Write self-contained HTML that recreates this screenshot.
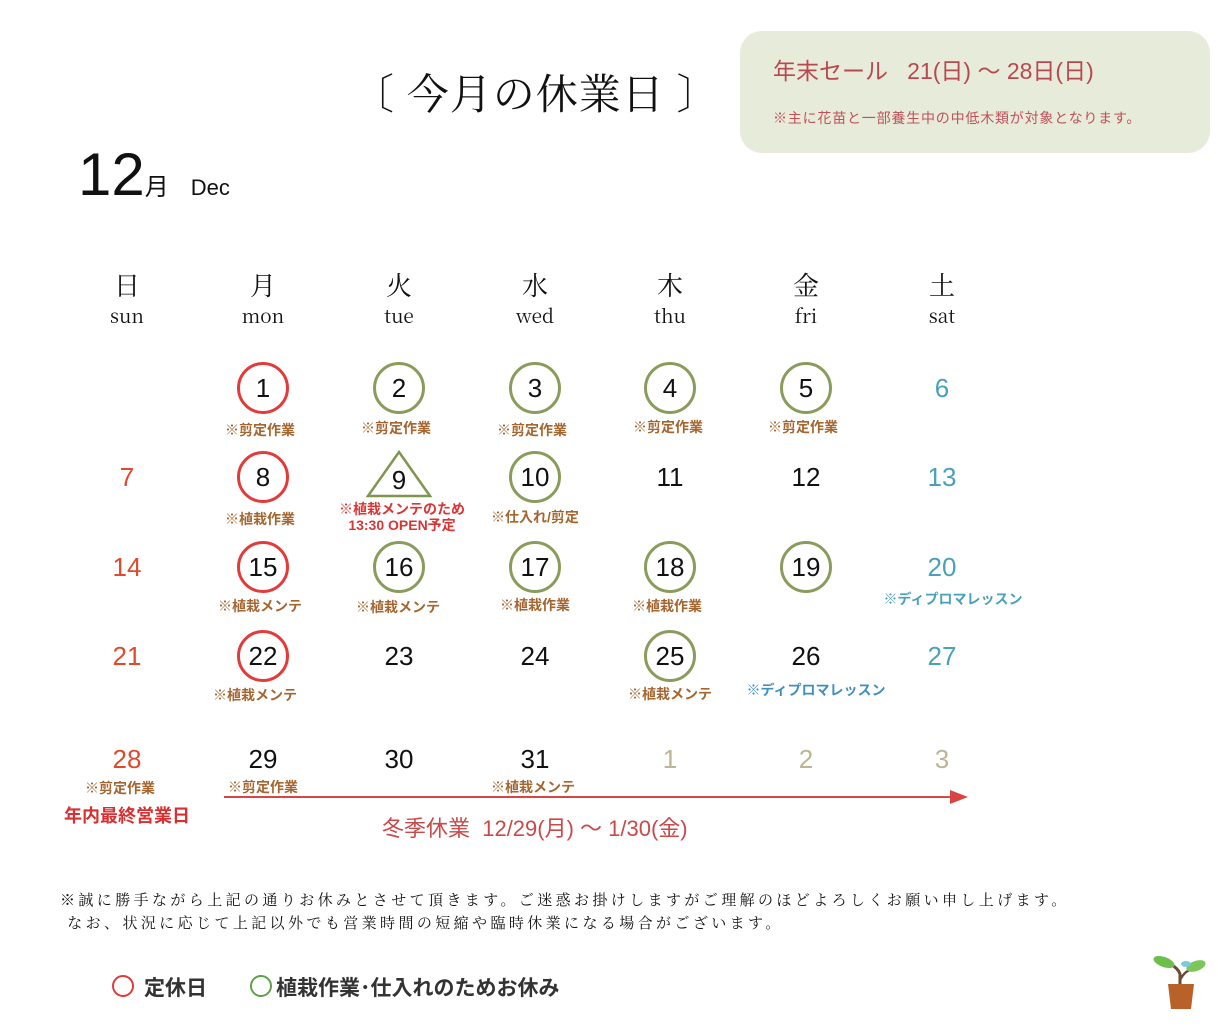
<!DOCTYPE html>
<html><head><meta charset="utf-8"><style>
body{margin:0;width:1218px;height:1031px;background:#fff;position:relative;overflow:hidden;font-family:"Liberation Sans","Noto Sans CJK JP",sans-serif;color:#111}
div{position:absolute}
.n{width:100px;margin-left:-50px;text-align:center;font-size:26px;line-height:30px}
.c{width:46px;height:46px;border:3.5px solid;border-radius:50%;margin-left:-26.5px;margin-top:-26.5px}
.r{border-color:#e23b3b}.g{border-color:#8a9c5c}
.a{width:220px;margin-left:-110px;text-align:center;font-size:14px;font-weight:bold;color:#a5652f;line-height:16px}
.h{width:100px;margin-left:-50px;text-align:center;font-family:"Noto Serif CJK SC","Liberation Serif",serif}
.red{color:#df4a2c}.teal{color:#4aa0b8}.pale{color:#bdb592}
</style></head><body>
<div style="left:352px;top:62px;font-size:42px;font-family:'Noto Serif CJK SC',serif;letter-spacing:1px">〔 今月の休業日 〕</div>
<div style="left:78px;top:140px;font-size:60px;font-family:'Liberation Sans',sans-serif;line-height:70px">12<span style="font-size:24px;font-family:'Noto Sans CJK JP',sans-serif">月</span><span style="font-size:22px;margin-left:22px">Dec</span></div>
<div style="left:740px;top:31px;width:470px;height:122px;background:#e7ebd9;border-radius:22px"></div>
<div style="left:773px;top:52px;font-size:23px;color:#b84850;white-space:pre">年末セール   21(日) ～ 28日(日)</div>
<div style="left:773px;top:108px;font-size:14px;color:#c0505a;letter-spacing:0.8px">※主に花苗と一部養生中の中低木類が対象となります。</div>

<div class="h" style="left:127px;top:266px;font-size:26px">日</div><div class="h" style="left:127px;top:302px;font-size:19px">sun</div>
<div class="h" style="left:263px;top:266px;font-size:26px">月</div><div class="h" style="left:263px;top:302px;font-size:19px">mon</div>
<div class="h" style="left:399px;top:266px;font-size:26px">火</div><div class="h" style="left:399px;top:302px;font-size:19px">tue</div>
<div class="h" style="left:535px;top:266px;font-size:26px">水</div><div class="h" style="left:535px;top:302px;font-size:19px">wed</div>
<div class="h" style="left:670px;top:266px;font-size:26px">木</div><div class="h" style="left:670px;top:302px;font-size:19px">thu</div>
<div class="h" style="left:806px;top:266px;font-size:26px">金</div><div class="h" style="left:806px;top:302px;font-size:19px">fri</div>
<div class="h" style="left:942px;top:266px;font-size:26px">土</div><div class="h" style="left:942px;top:302px;font-size:19px">sat</div>

<!-- row1 -->
<div class="c r" style="left:263px;top:388px"></div><div class="n" style="left:263px;top:373px">1</div><div class="a" style="left:260px;top:422px">※剪定作業</div>
<div class="c g" style="left:399px;top:388px"></div><div class="n" style="left:399px;top:373px">2</div><div class="a" style="left:396px;top:420px">※剪定作業</div>
<div class="c g" style="left:535px;top:388px"></div><div class="n" style="left:535px;top:373px">3</div><div class="a" style="left:532px;top:422px">※剪定作業</div>
<div class="c g" style="left:670px;top:388px"></div><div class="n" style="left:670px;top:373px">4</div><div class="a" style="left:668px;top:419px">※剪定作業</div>
<div class="c g" style="left:806px;top:388px"></div><div class="n" style="left:806px;top:373px">5</div><div class="a" style="left:803px;top:419px">※剪定作業</div>
<div class="n teal" style="left:942px;top:373px">6</div>
<!-- row2 -->
<div class="n red" style="left:127px;top:462px">7</div>
<div class="c r" style="left:263px;top:477px"></div><div class="n" style="left:263px;top:462px">8</div><div class="a" style="left:260px;top:511px">※植栽作業</div>
<svg style="position:absolute;left:366px;top:450px" width="66" height="48"><polygon points="33,2 64,46 2,46" fill="none" stroke="#7f9550" stroke-width="2.5"/></svg>
<div class="n" style="left:399px;top:465px">9</div>
<div class="a" style="left:402px;top:501px;color:#d93535">※植栽メンテのため<br>13:30 OPEN予定</div>
<div class="c g" style="left:535px;top:477px"></div><div class="n" style="left:535px;top:462px">10</div><div class="a" style="left:535px;top:509px">※仕入れ/剪定</div>
<div class="n" style="left:670px;top:462px">11</div>
<div class="n" style="left:806px;top:462px">12</div>
<div class="n teal" style="left:942px;top:462px">13</div>
<!-- row3 -->
<div class="n red" style="left:127px;top:552px">14</div>
<div class="c r" style="left:263px;top:567px"></div><div class="n" style="left:263px;top:552px">15</div><div class="a" style="left:260px;top:598px">※植栽メンテ</div>
<div class="c g" style="left:399px;top:567px"></div><div class="n" style="left:399px;top:552px">16</div><div class="a" style="left:398px;top:599px">※植栽メンテ</div>
<div class="c g" style="left:535px;top:567px"></div><div class="n" style="left:535px;top:552px">17</div><div class="a" style="left:535px;top:597px">※植栽作業</div>
<div class="c g" style="left:670px;top:567px"></div><div class="n" style="left:670px;top:552px">18</div><div class="a" style="left:667px;top:598px">※植栽作業</div>
<div class="c g" style="left:806px;top:567px"></div><div class="n" style="left:806px;top:552px">19</div>
<div class="n teal" style="left:942px;top:552px">20</div><div class="a" style="left:953px;top:591px;color:#4aa0b8">※ディプロマレッスン</div>
<!-- row4 -->
<div class="n red" style="left:127px;top:641px">21</div>
<div class="c r" style="left:263px;top:656px"></div><div class="n" style="left:263px;top:641px">22</div><div class="a" style="left:255px;top:687px">※植栽メンテ</div>
<div class="n" style="left:399px;top:641px">23</div>
<div class="n" style="left:535px;top:641px">24</div>
<div class="c g" style="left:670px;top:656px"></div><div class="n" style="left:670px;top:641px">25</div><div class="a" style="left:670px;top:686px">※植栽メンテ</div>
<div class="n" style="left:806px;top:641px">26</div><div class="a" style="left:816px;top:682px;color:#3f8fc0">※ディプロマレッスン</div>
<div class="n teal" style="left:942px;top:641px">27</div>
<!-- row5 -->
<div class="n red" style="left:127px;top:744px">28</div><div class="a" style="left:120px;top:780px">※剪定作業</div>
<div class="a" style="left:127px;top:805px;color:#d63030;font-size:18px;line-height:22px">年内最終営業日</div>
<div class="n" style="left:263px;top:744px">29</div><div class="a" style="left:263px;top:779px">※剪定作業</div>
<div class="n" style="left:399px;top:744px">30</div>
<div class="n" style="left:535px;top:744px">31</div><div class="a" style="left:533px;top:779px">※植栽メンテ</div>
<div class="n pale" style="left:670px;top:744px">1</div>
<div class="n pale" style="left:806px;top:744px">2</div>
<div class="n pale" style="left:942px;top:744px">3</div>
<div style="left:224px;top:796px;width:732px;height:2px;background:#d84545"></div>
<svg style="position:absolute;left:950px;top:790px" width="18" height="14"><polygon points="0,0 18,7 0,14" fill="#d84545"/></svg>
<div style="left:382px;top:811px;font-size:22px;color:#c84a4a;white-space:pre">冬季休業  12/29(月) ～ 1/30(金)</div>

<div style="left:60px;top:888px;font-size:15px;line-height:23px;font-family:'Noto Serif CJK SC',serif;letter-spacing:3.4px;white-space:pre">※誠に勝手ながら上記の通りお休みとさせて頂きます。ご迷惑お掛けしますがご理解のほどよろしくお願い申し上げます。
 なお、状況に応じて上記以外でも営業時間の短縮や臨時休業になる場合がございます。</div>

<div style="left:112px;top:975px;width:18px;height:18px;border:2.5px solid #e23b3b;border-radius:50%"></div>
<div style="left:144px;top:972px;font-size:21px;font-weight:bold;color:#333">定休日</div>
<div style="left:250px;top:975px;width:18px;height:18px;border:2.5px solid #5fa04a;border-radius:50%"></div>
<div style="left:276px;top:972px;font-size:21px;font-weight:bold;color:#333">植栽作業･仕入れのためお休み</div>

<svg style="position:absolute;left:1150px;top:952px" width="60" height="60">
<path d="M30 45 L30 22 Q28 16 20 12" stroke="#6a4a30" stroke-width="3" fill="none"/>
<path d="M30 28 Q34 20 40 18" stroke="#6a4a30" stroke-width="2.5" fill="none"/>
<ellipse cx="14" cy="10" rx="11" ry="5" fill="#6cbf4a" transform="rotate(20 14 10)"/>
<ellipse cx="46" cy="14" rx="10" ry="5" fill="#7cc65a" transform="rotate(-20 46 14)"/>
<ellipse cx="36" cy="12" rx="5" ry="3" fill="#7ec8d8"/>
<polygon points="18,32 44,32 41,57 21,57" fill="#b8622a"/>
</svg>
</body></html>
